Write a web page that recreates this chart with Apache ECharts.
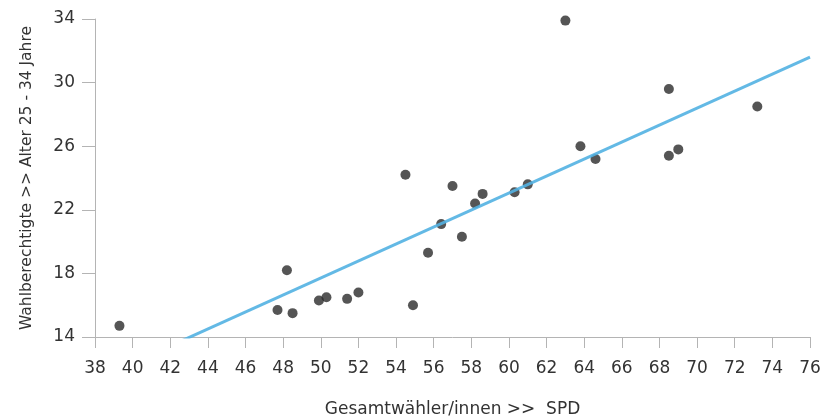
<!DOCTYPE html>
<html>
<head>
<meta charset="utf-8">
<script src="https://cdn.jsdelivr.net/npm/echarts@6/dist/echarts.min.js"></script>
<style>
  html, body { margin: 0; padding: 0; background: #ffffff; }
  #chart { width: 825px; height: 419px; }
</style>
</head>
<body>
<div id="chart"></div>
<script>
// SPD share of all voters (x) vs. share of electorate aged 25-34 (y), per district
const spdShare = [39.3, 48.2, 47.7, 48.5, 49.9, 50.3, 51.4, 52.0, 54.9, 55.7,
                  57.0, 58.6, 58.2, 56.4, 57.5, 60.3, 61.0, 64.6, 63.8, 54.5,
                  68.5, 68.5, 69.0, 73.2, 63.0];
const age25to34 = [14.7, 18.2, 15.7, 15.5, 16.3, 16.5, 16.4, 16.8, 16.0, 19.3,
                   23.5, 23.0, 22.4, 21.1, 20.3, 23.1, 23.6, 25.2, 26.0, 24.2,
                   29.6, 25.4, 25.8, 28.5, 33.9];

// Linear trend line endpoints
const trendX = [38, 76];
const trendY = [11.3, 31.6];

const xAxisName = 'Gesamtwähler/innen >>  SPD';
const yAxisName = 'Wahlberechtigte >> Alter 25 - 34 Jahre';

const points = spdShare.map((x, i) => [x, age25to34[i]]);
const trend = trendX.map((x, i) => [x, trendY[i]]);

const chart = echarts.init(document.getElementById('chart'), null, { renderer: 'canvas' });

const axisColor = '#b4b4b4';
const labelColor = '#333333';

chart.setOption({
  animation: false,
  backgroundColor: '#ffffff',
  grid: { left: 95, right: 15, top: 19, bottom: 82, containLabel: false, outerBoundsMode: 'none' },
  xAxis: {
    type: 'value',
    min: 38, max: 76, interval: 2,
    name: xAxisName,
    nameLocation: 'middle',
    nameGap: 64,
    nameTextStyle: { fontFamily: 'DejaVu Sans', fontSize: 17, color: labelColor },
    axisLine: { show: true, lineStyle: { color: axisColor, width: 1 } },
    axisTick: { show: true, length: 11, lineStyle: { color: axisColor } },
    axisLabel: { margin: 23, fontFamily: 'DejaVu Sans', fontSize: 17, color: labelColor },
    splitLine: { show: false }
  },
  yAxis: {
    type: 'value',
    min: 14, max: 34, interval: 4,
    name: yAxisName,
    nameLocation: 'middle',
    nameGap: 60,
    nameRotate: 90,
    nameTextStyle: { fontFamily: 'DejaVu Sans', fontSize: 15.5, color: labelColor },
    axisLine: { show: true, lineStyle: { color: axisColor, width: 1 } },
    axisTick: { show: true, length: 13, lineStyle: { color: axisColor } },
    axisLabel: { margin: 20, fontFamily: 'DejaVu Sans', fontSize: 17, color: labelColor },
    splitLine: { show: false }
  },
  series: [
    {
      type: 'scatter',
      data: points,
      symbol: 'circle',
      symbolSize: 10,
      itemStyle: { color: '#2a2a2a' },
      z: 2
    },
    {
      type: 'line',
      data: trend,
      showSymbol: false,
      clip: true,
      lineStyle: { color: '#52b1e2', width: 3, opacity: 0.9 },
      z: 3
    }
  ]
});
</script>
</body>
</html>
